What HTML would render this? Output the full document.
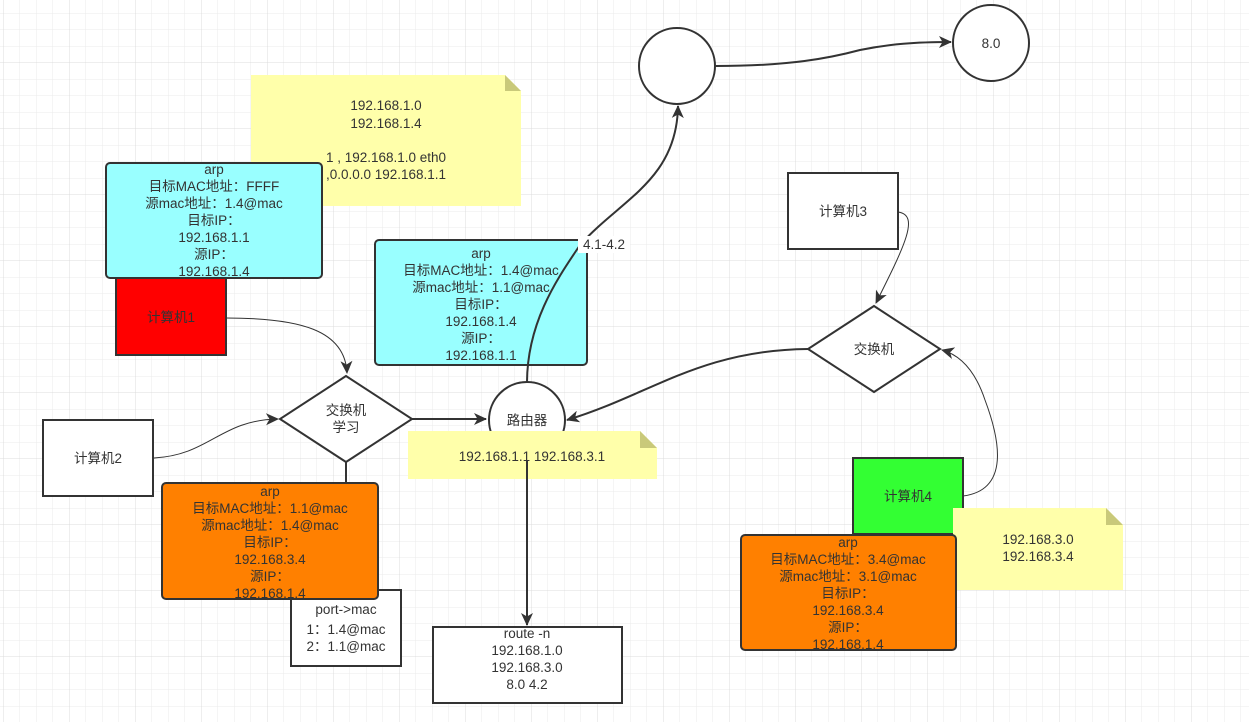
<!DOCTYPE html>
<html><head><meta charset="utf-8"><style>
html,body{margin:0;padding:0;background:#fff;}
svg{display:block}
text{font-family:"Liberation Sans","Noto Sans CJK SC",sans-serif;font-size:13.5px;fill:#333;text-anchor:middle}
</style></head><body>
<svg width="1249" height="722" viewBox="0 0 1249 722" xmlns="http://www.w3.org/2000/svg">
<defs>
<pattern id="g" x="3" y="-3.5" width="16.5" height="16.5" patternUnits="userSpaceOnUse">
<path d="M0 0H16.5M0 0V16.5" stroke="#ebebeb" stroke-width="1" fill="none"/>
</pattern>
<pattern id="G" x="3" y="-3.5" width="66" height="66" patternUnits="userSpaceOnUse">
<path d="M0 0H66M0 0V66" stroke="#dcdcdc" stroke-width="1" fill="none"/>
</pattern>
<marker id="a" markerWidth="14" markerHeight="14" refX="12" refY="7" orient="auto" markerUnits="userSpaceOnUse">
<path d="M0 1L13 7L0 13L3.5 7Z" fill="#333"/>
</marker>
</defs>
<rect width="1249" height="722" fill="url(#g)"/>
<rect width="1249" height="722" fill="url(#G)"/>

<path d="M251 75H505L521 91V206H251Z" fill="#ffffaa"/>
<path d="M505 75L521 91H505Z" fill="#c9c97a"/>
<text x="386" y="110">192.168.1.0</text>
<text x="386" y="128">192.168.1.4</text>
<text x="386" y="162">1 , 192.168.1.0  eth0</text>
<text x="386" y="179">,0.0.0.0  192.168.1.1</text>

<rect x="116" y="278" width="110" height="77" fill="#ff0000" stroke="#333" stroke-width="2"/>
<text x="171" y="322">计算机1</text>
<rect x="106" y="163" width="216" height="115" rx="4" fill="#99ffff" stroke="#333" stroke-width="2"/>
<text x="214" y="174">arp</text>
<text x="214" y="191">目标MAC地址：FFFF</text>
<text x="214" y="208">源mac地址：1.4@mac</text>
<text x="214" y="225">目标IP：</text>
<text x="214" y="242">192.168.1.1</text>
<text x="214" y="259">源IP：</text>
<text x="214" y="276">192.168.1.4</text>

<rect x="43" y="420" width="110" height="76" fill="#fff" stroke="#333" stroke-width="2"/>
<text x="98" y="463">计算机2</text>

<path d="M226 318C300 318 345 330 347 373" fill="none" stroke="#333" stroke-width="1" marker-end="url(#a)"/>
<path d="M154 458C210 455 220 420 278 419" fill="none" stroke="#333" stroke-width="1" marker-end="url(#a)"/>
<path d="M412 419H486" fill="none" stroke="#333" stroke-width="2" marker-end="url(#a)"/>
<path d="M346 462V484" stroke="#333" stroke-width="2"/>

<path d="M346 376L412 419L346 462L280 419Z" fill="#fff" stroke="#333" stroke-width="2"/>
<text x="346" y="415">交换机</text>
<text x="346" y="432">学习</text>

<rect x="375" y="240" width="212" height="125" rx="4" fill="#99ffff" stroke="#333" stroke-width="2"/>
<text x="481" y="258">arp</text>
<text x="481" y="275">目标MAC地址：1.4@mac</text>
<text x="481" y="292">源mac地址：1.1@mac</text>
<text x="481" y="309">目标IP：</text>
<text x="481" y="326">192.168.1.4</text>
<text x="481" y="343">源IP：</text>
<text x="481" y="360">192.168.1.1</text>

<path d="M527 383C527 320 560 275 580 245C620 200 677 180 678 106" fill="none" stroke="#333" stroke-width="2" marker-end="url(#a)"/>
<rect x="578" y="236" width="52" height="17" fill="#fff"/>
<text x="604" y="249">4.1-4.2</text>

<circle cx="527" cy="420" r="38" fill="#fff" stroke="#333" stroke-width="2"/>
<text x="527" y="425">路由器</text>
<path d="M408 431H640L657 448V479H408Z" fill="#ffffaa"/>
<path d="M640 431L657 448H640Z" fill="#c9c97a"/>
<text x="532" y="461">192.168.1.1   192.168.3.1</text>
<path d="M527 460V625" stroke="#333" stroke-width="2" marker-end="url(#a)"/>

<rect x="433" y="627" width="189" height="76" fill="#fff" stroke="#333" stroke-width="2"/>
<text x="527" y="638">route -n</text>
<text x="527" y="655">192.168.1.0</text>
<text x="527" y="672">192.168.3.0</text>
<text x="527" y="689">8.0  4.2</text>

<rect x="291" y="590" width="110" height="76" fill="#fff" stroke="#333" stroke-width="2"/>
<text x="346" y="614">port-&gt;mac</text>
<text x="346" y="634">1：1.4@mac</text>
<text x="346" y="651">2：1.1@mac</text>
<rect x="162" y="483" width="216" height="116" rx="4" fill="#ff8000" stroke="#333" stroke-width="2"/>
<text x="270" y="496">arp</text>
<text x="270" y="513">目标MAC地址：1.1@mac</text>
<text x="270" y="530">源mac地址：1.4@mac</text>
<text x="270" y="547">目标IP：</text>
<text x="270" y="564">192.168.3.4</text>
<text x="270" y="581">源IP：</text>
<text x="270" y="598">192.168.1.4</text>

<circle cx="677" cy="66" r="38" fill="#fff" stroke="#333" stroke-width="2"/>
<circle cx="991" cy="43" r="38" fill="#fff" stroke="#333" stroke-width="2"/>
<text x="991" y="48">8.0</text>
<path d="M716 66C790 66 830 58 860 50C890 44 915 42 951 42" fill="none" stroke="#333" stroke-width="2" marker-end="url(#a)"/>

<rect x="788" y="173" width="110" height="76" fill="#fff" stroke="#333" stroke-width="2"/>
<text x="843" y="216">计算机3</text>
<path d="M898 212C920 215 905 245 876 303" fill="none" stroke="#333" stroke-width="1" marker-end="url(#a)"/>

<path d="M874 306L940 349L874 392L808 349Z" fill="#fff" stroke="#333" stroke-width="2"/>
<text x="874" y="354">交换机</text>
<path d="M808 349C700 350 650 395 567 420" fill="none" stroke="#333" stroke-width="2" marker-end="url(#a)"/>

<rect x="853" y="458" width="110" height="76" fill="#33ff33" stroke="#333" stroke-width="2"/>
<text x="908" y="501">计算机4</text>
<path d="M963 496C1010 490 1000 440 985 400C975 370 960 355 942 350" fill="none" stroke="#333" stroke-width="1" marker-end="url(#a)"/>

<path d="M953 508H1106L1123 525V590H953Z" fill="#ffffaa"/>
<path d="M1106 508L1123 525H1106Z" fill="#c9c97a"/>
<text x="1038" y="544">192.168.3.0</text>
<text x="1038" y="561">192.168.3.4</text>

<rect x="741" y="535" width="215" height="115" rx="4" fill="#ff8000" stroke="#333" stroke-width="2"/>
<text x="848" y="547">arp</text>
<text x="848" y="564">目标MAC地址：3.4@mac</text>
<text x="848" y="581">源mac地址：3.1@mac</text>
<text x="848" y="598">目标IP：</text>
<text x="848" y="615">192.168.3.4</text>
<text x="848" y="632">源IP：</text>
<text x="848" y="649">192.168.1.4</text>
</svg>
</body></html>
